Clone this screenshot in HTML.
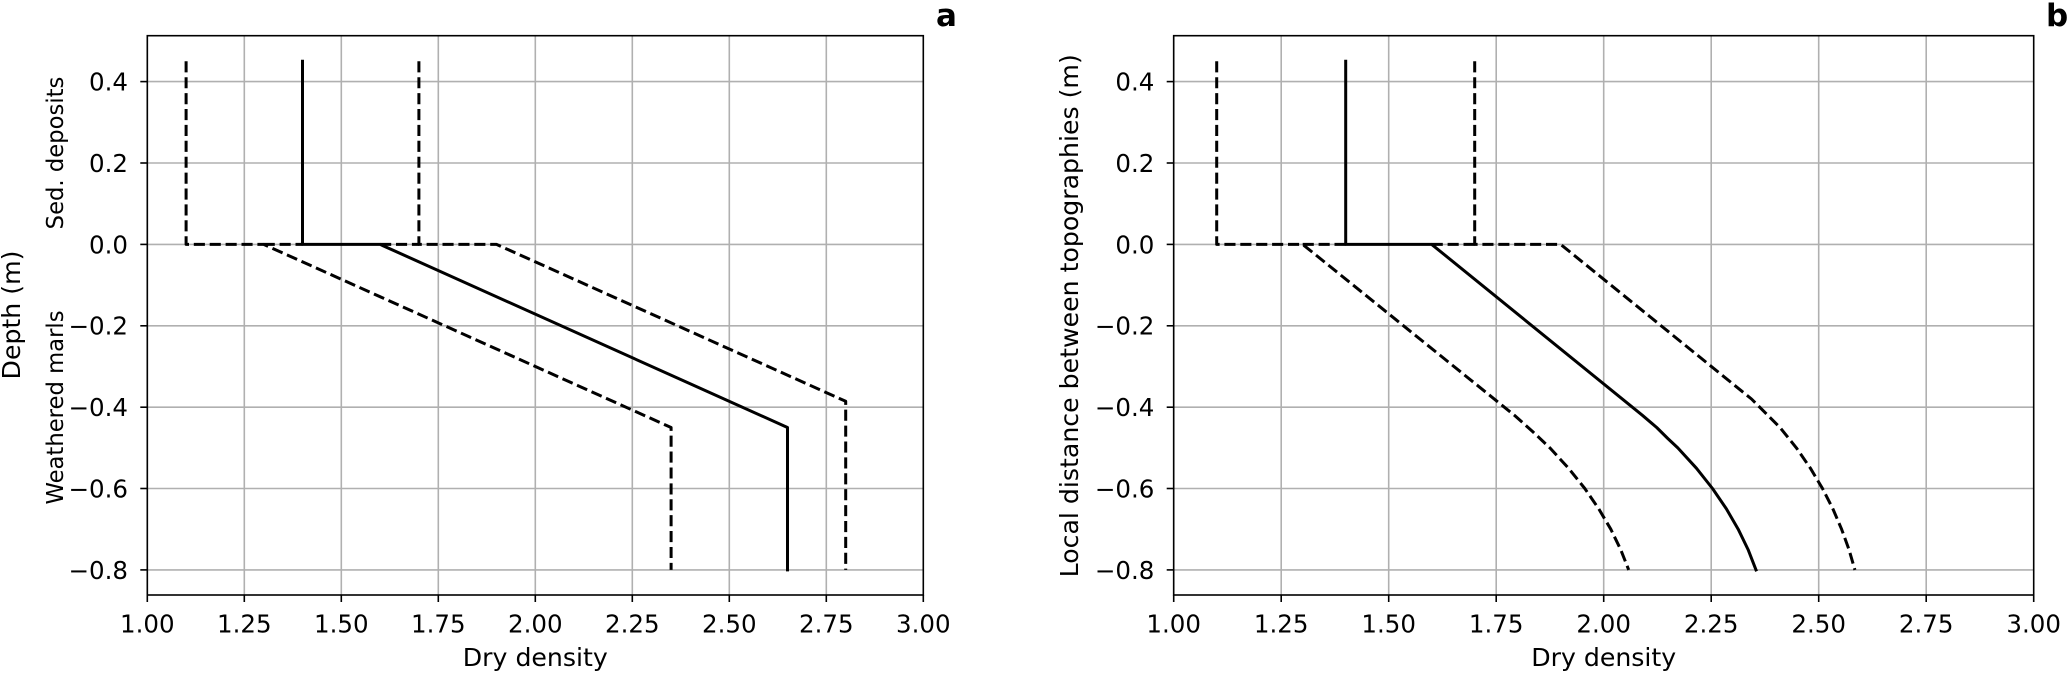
<!DOCTYPE html>
<html>
<head>
<meta charset="utf-8">
<style>
  html, body { margin:0; padding:0; background:#ffffff; }
  svg { display:block; }
  text { font-family: "DejaVu Sans", "Liberation Sans", sans-serif; fill:#000; }
</style>
</head>
<body>
<svg width="2067" height="673" viewBox="0 0 2067 673" xmlns="http://www.w3.org/2000/svg">
  <rect x="0" y="0" width="2067" height="673" fill="#ffffff"/>

  <!-- ================= PANEL A ================= -->
  <g stroke="#b0b0b0" stroke-width="1.6" fill="none">
    <line x1="147.3" y1="35.7" x2="147.3" y2="595"/>
    <line x1="244.3" y1="35.7" x2="244.3" y2="595"/>
    <line x1="341.3" y1="35.7" x2="341.3" y2="595"/>
    <line x1="438.3" y1="35.7" x2="438.3" y2="595"/>
    <line x1="535.3" y1="35.7" x2="535.3" y2="595"/>
    <line x1="632.3" y1="35.7" x2="632.3" y2="595"/>
    <line x1="729.3" y1="35.7" x2="729.3" y2="595"/>
    <line x1="826.3" y1="35.7" x2="826.3" y2="595"/>
    <line x1="147.3" y1="81.6" x2="923.3" y2="81.6"/>
    <line x1="147.3" y1="163.0" x2="923.3" y2="163.0"/>
    <line x1="147.3" y1="244.4" x2="923.3" y2="244.4"/>
    <line x1="147.3" y1="325.8" x2="923.3" y2="325.8"/>
    <line x1="147.3" y1="407.2" x2="923.3" y2="407.2"/>
    <line x1="147.3" y1="488.5" x2="923.3" y2="488.5"/>
    <line x1="147.3" y1="569.9" x2="923.3" y2="569.9"/>
  </g>

  <!-- data panel A -->
  <g fill="none" stroke="#000" stroke-width="3" stroke-linejoin="round">
    <path d="M263.7,244.4 H302.5 M380.1,244.4 H418.9" stroke-dasharray="11.1 4.8" stroke-linecap="butt"/>
    <path d="M302.5,61.3 V244.4 H380.1 L787.5,427.5 V569.9" stroke-linecap="square"/>
    <path d="M186.1,61.3 V244.4 H263.7 L671.1,427.5 V569.9" stroke-dasharray="11.1 4.8" stroke-linecap="butt"/>
    <path d="M418.9,61.3 V244.4 H496.5 L845.7,401.3 V569.9" stroke-dasharray="11.1 4.8" stroke-linecap="butt"/>
  </g>

  <!-- frame A -->
  <rect x="147.3" y="35.7" width="776" height="559.3" fill="none" stroke="#000" stroke-width="1.6"/>

  <!-- ticks A -->
  <g stroke="#000" stroke-width="1.6">
    <line x1="147.3" y1="595" x2="147.3" y2="602"/>
    <line x1="244.3" y1="595" x2="244.3" y2="602"/>
    <line x1="341.3" y1="595" x2="341.3" y2="602"/>
    <line x1="438.3" y1="595" x2="438.3" y2="602"/>
    <line x1="535.3" y1="595" x2="535.3" y2="602"/>
    <line x1="632.3" y1="595" x2="632.3" y2="602"/>
    <line x1="729.3" y1="595" x2="729.3" y2="602"/>
    <line x1="826.3" y1="595" x2="826.3" y2="602"/>
    <line x1="923.3" y1="595" x2="923.3" y2="602"/>
    <line x1="140.3" y1="81.6" x2="147.3" y2="81.6"/>
    <line x1="140.3" y1="163.0" x2="147.3" y2="163.0"/>
    <line x1="140.3" y1="244.4" x2="147.3" y2="244.4"/>
    <line x1="140.3" y1="325.8" x2="147.3" y2="325.8"/>
    <line x1="140.3" y1="407.2" x2="147.3" y2="407.2"/>
    <line x1="140.3" y1="488.5" x2="147.3" y2="488.5"/>
    <line x1="140.3" y1="569.9" x2="147.3" y2="569.9"/>
  </g>

  <g font-size="24.5" text-anchor="middle">
    <text x="147.3" y="632.5">1.00</text>
    <text x="244.3" y="632.5">1.25</text>
    <text x="341.3" y="632.5">1.50</text>
    <text x="438.3" y="632.5">1.75</text>
    <text x="535.3" y="632.5">2.00</text>
    <text x="632.3" y="632.5">2.25</text>
    <text x="729.3" y="632.5">2.50</text>
    <text x="826.3" y="632.5">2.75</text>
    <text x="923.3" y="632.5">3.00</text>
  </g>
  <g font-size="24.5" text-anchor="end">
    <text x="128" y="90.5">0.4</text>
    <text x="128" y="171.9">0.2</text>
    <text x="128" y="253.3">0.0</text>
    <text x="128" y="334.7">−0.2</text>
    <text x="128" y="416.1">−0.4</text>
    <text x="128" y="497.4">−0.6</text>
    <text x="128" y="578.8">−0.8</text>
  </g>

  <text x="535.3" y="666" font-size="25.2" text-anchor="middle">Dry density</text>
  <text transform="translate(20,315) rotate(-90)" font-size="25.2" text-anchor="middle">Depth (m)</text>
  <text transform="translate(63,153) rotate(-90)" font-size="22.7" text-anchor="middle">Sed. deposits</text>
  <text transform="translate(63,407.5) rotate(-90)" font-size="22.7" text-anchor="middle">Weathered marls</text>
  <text x="936" y="26" font-size="31" font-weight="bold">a</text>

  <!-- ================= PANEL B ================= -->
  <g stroke="#b0b0b0" stroke-width="1.6" fill="none">
    <line x1="1173.7" y1="35.7" x2="1173.7" y2="595"/>
    <line x1="1281.2" y1="35.7" x2="1281.2" y2="595"/>
    <line x1="1388.7" y1="35.7" x2="1388.7" y2="595"/>
    <line x1="1496.2" y1="35.7" x2="1496.2" y2="595"/>
    <line x1="1603.7" y1="35.7" x2="1603.7" y2="595"/>
    <line x1="1711.2" y1="35.7" x2="1711.2" y2="595"/>
    <line x1="1818.7" y1="35.7" x2="1818.7" y2="595"/>
    <line x1="1926.2" y1="35.7" x2="1926.2" y2="595"/>
    <line x1="1173.7" y1="81.6" x2="2033.7" y2="81.6"/>
    <line x1="1173.7" y1="163.0" x2="2033.7" y2="163.0"/>
    <line x1="1173.7" y1="244.4" x2="2033.7" y2="244.4"/>
    <line x1="1173.7" y1="325.8" x2="2033.7" y2="325.8"/>
    <line x1="1173.7" y1="407.2" x2="2033.7" y2="407.2"/>
    <line x1="1173.7" y1="488.5" x2="2033.7" y2="488.5"/>
    <line x1="1173.7" y1="569.9" x2="2033.7" y2="569.9"/>
  </g>

  <!-- data panel B -->
  <g fill="none" stroke="#000" stroke-width="3" stroke-linejoin="round">
    <path d="M1302.7,244.4 H1345.7 M1431.7,244.4 H1474.7" stroke-dasharray="11.1 4.8" stroke-linecap="butt"/>
    <path d="M1345.7,61.3 V244.4 H1431.7 L1642.4,415.3 L1656.7,427.5 L1667.8,438.5 L1677.8,447.9 L1696.4,468.2 L1712.5,488.5 L1726.4,508.9 L1738.2,529.2 L1748.1,549.6 L1756.0,569.9" stroke-linecap="square"/>
    <path d="M1216.7,61.3 V244.4 H1302.7 L1514.4,415.3 L1532.7,431.6 L1549.9,447.9 L1568.5,468.2 L1584.8,488.5 L1598.8,508.9 L1610.8,529.2 L1620.7,549.6 L1628.7,569.9" stroke-dasharray="11.1 4.8" stroke-linecap="butt"/>
    <path d="M1474.7,61.3 V244.4 H1560.7 L1751.5,399.0 L1780.0,427.5 L1796.4,447.9 L1810.4,468.2 L1822.5,488.5 L1832.9,508.9 L1841.6,529.2 L1849.0,549.6 L1854.9,569.9" stroke-dasharray="11.1 4.8" stroke-linecap="butt"/>
  </g>

  <!-- frame B -->
  <rect x="1173.7" y="35.7" width="860" height="559.3" fill="none" stroke="#000" stroke-width="1.6"/>

  <!-- ticks B -->
  <g stroke="#000" stroke-width="1.6">
    <line x1="1173.7" y1="595" x2="1173.7" y2="602"/>
    <line x1="1281.2" y1="595" x2="1281.2" y2="602"/>
    <line x1="1388.7" y1="595" x2="1388.7" y2="602"/>
    <line x1="1496.2" y1="595" x2="1496.2" y2="602"/>
    <line x1="1603.7" y1="595" x2="1603.7" y2="602"/>
    <line x1="1711.2" y1="595" x2="1711.2" y2="602"/>
    <line x1="1818.7" y1="595" x2="1818.7" y2="602"/>
    <line x1="1926.2" y1="595" x2="1926.2" y2="602"/>
    <line x1="2033.7" y1="595" x2="2033.7" y2="602"/>
    <line x1="1166.7" y1="81.6" x2="1173.7" y2="81.6"/>
    <line x1="1166.7" y1="163.0" x2="1173.7" y2="163.0"/>
    <line x1="1166.7" y1="244.4" x2="1173.7" y2="244.4"/>
    <line x1="1166.7" y1="325.8" x2="1173.7" y2="325.8"/>
    <line x1="1166.7" y1="407.2" x2="1173.7" y2="407.2"/>
    <line x1="1166.7" y1="488.5" x2="1173.7" y2="488.5"/>
    <line x1="1166.7" y1="569.9" x2="1173.7" y2="569.9"/>
  </g>

  <g font-size="24.5" text-anchor="middle">
    <text x="1173.7" y="632.5">1.00</text>
    <text x="1281.2" y="632.5">1.25</text>
    <text x="1388.7" y="632.5">1.50</text>
    <text x="1496.2" y="632.5">1.75</text>
    <text x="1603.7" y="632.5">2.00</text>
    <text x="1711.2" y="632.5">2.25</text>
    <text x="1818.7" y="632.5">2.50</text>
    <text x="1926.2" y="632.5">2.75</text>
    <text x="2033.7" y="632.5">3.00</text>
  </g>
  <g font-size="24.5" text-anchor="end">
    <text x="1154.4" y="90.5">0.4</text>
    <text x="1154.4" y="171.9">0.2</text>
    <text x="1154.4" y="253.3">0.0</text>
    <text x="1154.4" y="334.7">−0.2</text>
    <text x="1154.4" y="416.1">−0.4</text>
    <text x="1154.4" y="497.4">−0.6</text>
    <text x="1154.4" y="578.8">−0.8</text>
  </g>

  <text x="1603.7" y="666" font-size="25.2" text-anchor="middle">Dry density</text>
  <text transform="translate(1078,315.8) rotate(-90)" font-size="25.2" text-anchor="middle">Local distance between topographies (m)</text>
  <text x="2046" y="26" font-size="31" font-weight="bold">b</text>
</svg>
</body>
</html>
